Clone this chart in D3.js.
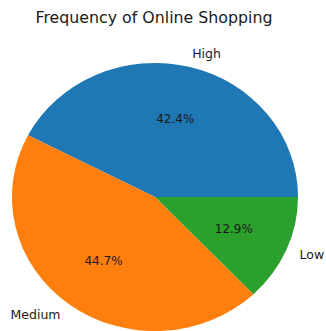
<!DOCTYPE html>
<html>
<head>
<meta charset="utf-8">
<script src="https://cdn.jsdelivr.net/npm/d3@7"></script>
<style>
  body { margin: 0; background: #fff; }
  text { font-family: "DejaVu Sans", sans-serif; fill: #1a1a1a; }
</style>
</head>
<body>
<div id="chart"></div>
<script>
var categories = ["High", "Medium", "Low"];
var shares = [42.4, 44.7, 12.9];
var colors = ["#1f77b4", "#ff7f0e", "#2ca02c"];

var width = 326, height = 331;
var cx = 155, cy = 197;
var rx = 143, ry = 134;

var svg = d3.select("#chart").append("svg")
    .attr("width", width)
    .attr("height", height);

svg.append("text")
    .attr("x", 154)
    .attr("y", 23)
    .attr("text-anchor", "middle")
    .style("font-size", "15.8px")
    .text("Frequency of Online Shopping");

var data = categories.map(function(c, i) { return { name: c, value: shares[i] }; });

// matplotlib style: start at 3 o'clock, go counterclockwise
var pie = d3.pie()
    .sort(null)
    .value(function(d) { return d.value; })
    .startAngle(Math.PI / 2)
    .endAngle(Math.PI / 2 - 2 * Math.PI);

var arcs = pie(data);

var arc = d3.arc().innerRadius(0).outerRadius(1);

var pieGroup = svg.append("g")
    .attr("transform", "translate(" + cx + "," + cy + ") scale(" + rx + "," + ry + ")");

pieGroup.selectAll("path")
    .data(arcs)
    .enter().append("path")
        .attr("d", arc)
        .attr("fill", function(d, i) { return colors[i]; });

function pos(d, k) {
    var a = (d.startAngle + d.endAngle) / 2;
    return [cx + k * rx * Math.sin(a), cy - k * ry * Math.cos(a)];
}

svg.selectAll("text.label")
    .data(arcs)
    .enter().append("text")
        .attr("class", "label")
        .attr("x", function(d) { return pos(d, 1.1)[0]; })
        .attr("y", function(d) { return pos(d, 1.1)[1]; })
        .attr("dy", "0.35em")
        .attr("text-anchor", function(d) { return pos(d, 1.1)[0] > cx ? "start" : "end"; })
        .style("font-size", "12.5px")
        .text(function(d) { return d.data.name; });

svg.selectAll("text.pct")
    .data(arcs)
    .enter().append("text")
        .attr("class", "pct")
        .attr("x", function(d) { return pos(d, 0.6)[0]; })
        .attr("y", function(d) { return pos(d, 0.6)[1]; })
        .attr("dy", "0.35em")
        .attr("text-anchor", "middle")
        .style("font-size", "12px")
        .text(function(d) { return d.data.value.toFixed(1) + "%"; });
</script>
</body>
</html>
